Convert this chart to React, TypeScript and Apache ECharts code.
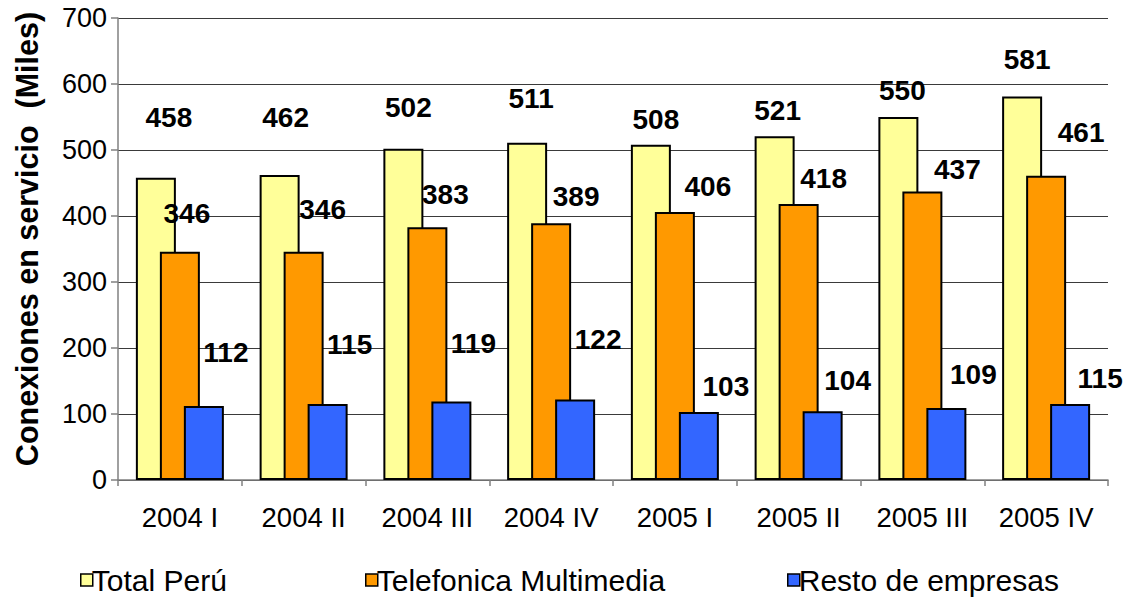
import React, { useEffect, useRef } from "react";
import * as echarts from "echarts";

const categories = ["2004 I", "2004 II", "2004 III", "2004 IV", "2005 I", "2005 II", "2005 III", "2005 IV"];
const totalPeru = [458, 462, 502, 511, 508, 521, 550, 581];
const telefonica = [346, 346, 383, 389, 406, 418, 437, 461];
const restoEmpresas = [112, 115, 119, 122, 103, 104, 109, 115];
const seriesNames = ["Total Perú", "Telefonica Multimedia", "Resto de empresas"];
const yTitle = "Conexiones en servicio  (Miles)";
const yTicks = { min: 0, max: 700, interval: 100 };

// label nudges (px) relative to each bar's top-centre, as placed in the original
const totalNudge = [[13, -60], [6, -58], [5, -41], [4, -44], [5, -25], [3, -26], [4, -27], [5, -37]];
const telNudge = [[7, -38], [19, -42], [18, -33], [25, -27], [33, -26], [25, -26], [35, -22], [35, -43]];
const restoNudge = [[22, -54], [22, -60], [22, -58], [23, -60], [27, -26], [25, -31], [27, -34], [30, -26]];

const FONT = "'Liberation Sans', Arial, Helvetica, sans-serif";
const colors = ["#FFFF99", "#FF9900", "#3366FF"];

function buildData(values: number[], nudges: number[][]) {
  return values.map((v, i) => ({
    value: v,
    label: { offset: nudges[i] },
  }));
}

export default function App() {
  const ref = useRef<HTMLDivElement>(null);
  useEffect(() => {
    if (!ref.current) return;
    const chart = echarts.init(ref.current, null, { renderer: "svg" });
    const labelBase = {
      show: true,
      position: ["50%", 0],
      align: "center",
      verticalAlign: "middle",
      color: "#000",
      fontFamily: FONT,
      fontWeight: "bold",
      fontSize: 28,
    };
    const itemBase = { borderColor: "#000", borderWidth: 2 };
    const legendCommon = {
      top: 565,
      padding: 0,
      icon: "rect",
      itemWidth: 12,
      itemHeight: 12,
      itemStyle: { borderColor: "#000", borderWidth: 1.5 },
      textStyle: { fontFamily: FONT, fontSize: 30, lineHeight: 24, color: "#000", padding: [0, 0, 0, -6] },
      selectedMode: false,
    };
    chart.setOption({
      animation: false,
      color: colors,
      grid: { left: 118, right: 29, top: 18, bottom: 117, containLabel: false },
      legend: [
        { ...legendCommon, left: 80, data: [seriesNames[0]] },
        { ...legendCommon, left: 365, data: [seriesNames[1]] },
        { ...legendCommon, left: 787, data: [seriesNames[2]] },
      ],
      graphic: [
        {
          type: "text",
          x: 27,
          y: 239,
          rotation: Math.PI / 2,
          style: {
            text: yTitle,
            fontFamily: FONT,
            fontWeight: "bold",
            fontSize: 30.5,
            fill: "#000",
            align: "center",
            verticalAlign: "middle",
          },
        },
      ],
      xAxis: {
        type: "category",
        data: categories,
        boundaryGap: true,
        axisLine: { lineStyle: { color: "#808080", width: 1.5 } },
        axisTick: { show: true, length: 6, lineStyle: { color: "#808080", width: 1.5 } },
        axisLabel: { color: "#000", fontFamily: FONT, fontSize: 27.5, margin: 23 },
      },
      yAxis: {
        type: "value",
        min: yTicks.min,
        max: yTicks.max,
        interval: yTicks.interval,
        axisLine: { show: true, lineStyle: { color: "#808080", width: 1.5 } },
        axisTick: { show: true, length: 7, lineStyle: { color: "#808080", width: 1.5 } },
        axisLabel: { color: "#000", fontFamily: FONT, fontSize: 27, margin: 11 },
        splitLine: { show: true, lineStyle: { color: "#3a3a3a", width: 1 } },
      },
      series: [
        {
          name: seriesNames[0],
          type: "bar",
          barWidth: 40,
          barGap: "-40%",
          itemStyle: { ...itemBase, color: colors[0] },
          label: labelBase,
          data: buildData(totalPeru, totalNudge),
        },
        {
          name: seriesNames[1],
          type: "bar",
          barWidth: 40,
          barGap: "-40%",
          itemStyle: { ...itemBase, color: colors[1] },
          label: labelBase,
          data: buildData(telefonica, telNudge),
        },
        {
          name: seriesNames[2],
          type: "bar",
          barWidth: 40,
          barGap: "-40%",
          itemStyle: { ...itemBase, color: colors[2] },
          label: labelBase,
          data: buildData(restoEmpresas, restoNudge),
        },
      ],
    });
    return () => chart.dispose();
  }, []);
  return (
    <div
      ref={ref}
      style={{ position: "fixed", left: 0, top: 0, width: 1137, height: 597, background: "#fff" }}
    />
  );
}
